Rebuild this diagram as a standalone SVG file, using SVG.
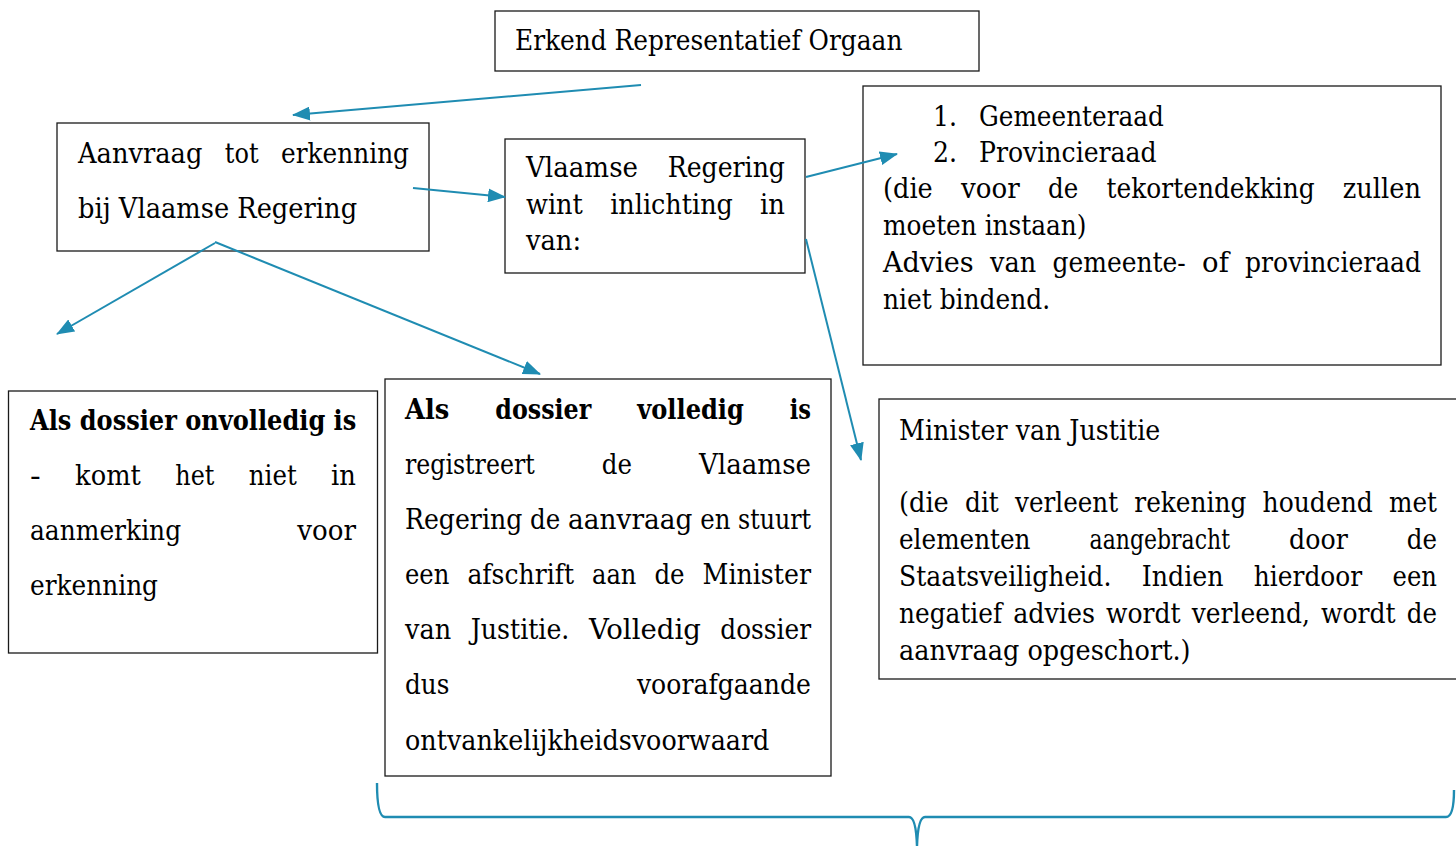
<svg xmlns="http://www.w3.org/2000/svg" width="1456" height="846" viewBox="0 0 1456 846">
  <style>
    .box { fill: #fff; stroke: #1a1a1a; stroke-width: 1.3; }
    text { font-family: 'DejaVu Serif', 'Liberation Serif', serif; font-size: 27px; fill: #000; }
    .b { font-weight: bold; }
    .link { fill: none; stroke: #1f8cb2; stroke-width: 2; }
    .brace { fill: none; stroke: #1f8cb2; stroke-width: 2.4; }
  </style>
  <defs>
    <marker id="arrow" markerUnits="userSpaceOnUse" markerWidth="18" markerHeight="14" refX="17" refY="7" orient="auto">
      <path d="M0,0 L18,7 L0,14 z" fill="#1f8cb2"/>
    </marker>
  </defs>

  <rect width="1456" height="846" fill="#fff"/>

  <!-- Every word run carries its own textLength so justified lines keep their columns -->

  <g id="orgaan">
    <rect class="box" x="495" y="11" width="484" height="60"/>
    <text x="515" y="50" textLength="387.4" lengthAdjust="spacingAndGlyphs">Erkend Representatief Orgaan</text>
  </g>

  <g id="aanvraag">
    <rect class="box" x="57" y="123" width="372" height="128"/>
    <text x="78" y="163" textLength="124.4" lengthAdjust="spacingAndGlyphs">Aanvraag</text>
    <text x="224.8" y="163" textLength="33.8" lengthAdjust="spacingAndGlyphs">tot</text>
    <text x="281" y="163" textLength="128" lengthAdjust="spacingAndGlyphs">erkenning</text>
    <text x="78" y="218" textLength="279.1" lengthAdjust="spacingAndGlyphs">bij Vlaamse Regering</text>
  </g>

  <g id="vlaamse-regering">
    <rect class="box" x="505" y="139" width="300" height="134"/>
    <text x="526" y="177" textLength="112" lengthAdjust="spacingAndGlyphs">Vlaamse</text>
    <text x="667.7" y="177" textLength="117.3" lengthAdjust="spacingAndGlyphs">Regering</text>
    <text x="526" y="214" textLength="56.9" lengthAdjust="spacingAndGlyphs">wint</text>
    <text x="610.2" y="214" textLength="122.7" lengthAdjust="spacingAndGlyphs">inlichting</text>
    <text x="760.1" y="214" textLength="24.9" lengthAdjust="spacingAndGlyphs">in</text>
    <text x="526" y="250" textLength="55.1" lengthAdjust="spacingAndGlyphs">van:</text>
  </g>

  <g id="raden">
    <rect class="box" x="863" y="86" width="578" height="279"/>
    <text x="933" y="126" textLength="24" lengthAdjust="spacingAndGlyphs">1.</text>
    <text x="979" y="126" textLength="184.8" lengthAdjust="spacingAndGlyphs">Gemeenteraad</text>
    <text x="933" y="162" textLength="24" lengthAdjust="spacingAndGlyphs">2.</text>
    <text x="979" y="162" textLength="177.7" lengthAdjust="spacingAndGlyphs">Provincieraad</text>
    <text x="883" y="198" textLength="49.8" lengthAdjust="spacingAndGlyphs">(die</text>
    <text x="961.1" y="198" textLength="58.7" lengthAdjust="spacingAndGlyphs">voor</text>
    <text x="1048.1" y="198" textLength="30.2" lengthAdjust="spacingAndGlyphs">de</text>
    <text x="1106.6" y="198" textLength="208" lengthAdjust="spacingAndGlyphs">tekortendekking</text>
    <text x="1342.8" y="198" textLength="78.2" lengthAdjust="spacingAndGlyphs">zullen</text>
    <text x="883" y="235" textLength="203.5" lengthAdjust="spacingAndGlyphs">moeten instaan)</text>
    <text x="883" y="272" textLength="90.7" lengthAdjust="spacingAndGlyphs">Advies</text>
    <text x="990" y="272" textLength="46.2" lengthAdjust="spacingAndGlyphs">van</text>
    <text x="1052.5" y="272" textLength="133.3" lengthAdjust="spacingAndGlyphs">gemeente-</text>
    <text x="1202.1" y="272" textLength="26.7" lengthAdjust="spacingAndGlyphs">of</text>
    <text x="1245.1" y="272" textLength="175.9" lengthAdjust="spacingAndGlyphs">provincieraad</text>
    <text x="883" y="309" textLength="167.1" lengthAdjust="spacingAndGlyphs">niet bindend.</text>
  </g>

  <g id="minister">
    <rect class="box" x="879" y="399" width="620" height="280"/>
    <text x="899" y="440" textLength="261.3" lengthAdjust="spacingAndGlyphs">Minister van Justitie</text>
    <text x="899" y="512" textLength="49.8" lengthAdjust="spacingAndGlyphs">(die</text>
    <text x="965" y="512" textLength="33.8" lengthAdjust="spacingAndGlyphs">dit</text>
    <text x="1015" y="512" textLength="103.1" lengthAdjust="spacingAndGlyphs">verleent</text>
    <text x="1134.3" y="512" textLength="112" lengthAdjust="spacingAndGlyphs">rekening</text>
    <text x="1262.6" y="512" textLength="110.2" lengthAdjust="spacingAndGlyphs">houdend</text>
    <text x="1389" y="512" textLength="48" lengthAdjust="spacingAndGlyphs">met</text>
    <text x="899" y="549" textLength="131.5" lengthAdjust="spacingAndGlyphs">elementen</text>
    <text x="1089.6" y="549" textLength="140.4" lengthAdjust="spacingAndGlyphs">aangebracht</text>
    <text x="1289.1" y="549" textLength="58.7" lengthAdjust="spacingAndGlyphs">door</text>
    <text x="1406.8" y="549" textLength="30.2" lengthAdjust="spacingAndGlyphs">de</text>
    <text x="899" y="586" textLength="212.4" lengthAdjust="spacingAndGlyphs">Staatsveiligheid.</text>
    <text x="1141.7" y="586" textLength="81.8" lengthAdjust="spacingAndGlyphs">Indien</text>
    <text x="1253.8" y="586" textLength="108.4" lengthAdjust="spacingAndGlyphs">hierdoor</text>
    <text x="1392.6" y="586" textLength="44.4" lengthAdjust="spacingAndGlyphs">een</text>
    <text x="899" y="623" textLength="103.1" lengthAdjust="spacingAndGlyphs">negatief</text>
    <text x="1013.2" y="623" textLength="81.8" lengthAdjust="spacingAndGlyphs">advies</text>
    <text x="1106" y="623" textLength="74.7" lengthAdjust="spacingAndGlyphs">wordt</text>
    <text x="1191.7" y="623" textLength="118.2" lengthAdjust="spacingAndGlyphs">verleend,</text>
    <text x="1321" y="623" textLength="74.7" lengthAdjust="spacingAndGlyphs">wordt</text>
    <text x="1406.8" y="623" textLength="30.2" lengthAdjust="spacingAndGlyphs">de</text>
    <text x="899" y="660" textLength="291.5" lengthAdjust="spacingAndGlyphs">aanvraag opgeschort.)</text>
  </g>

  <g id="onvolledig">
    <rect class="box" x="8.5" y="391" width="369" height="262"/>
    <text class="b" x="30" y="430" textLength="326.3" lengthAdjust="spacingAndGlyphs">Als dossier onvolledig is</text>
    <text x="30" y="485" textLength="10.7" lengthAdjust="spacingAndGlyphs">-</text>
    <text x="75.1" y="485" textLength="65.8" lengthAdjust="spacingAndGlyphs">komt</text>
    <text x="175.3" y="485" textLength="39.1" lengthAdjust="spacingAndGlyphs">het</text>
    <text x="248.8" y="485" textLength="48" lengthAdjust="spacingAndGlyphs">niet</text>
    <text x="331.1" y="485" textLength="24.9" lengthAdjust="spacingAndGlyphs">in</text>
    <text x="30" y="540" textLength="151.1" lengthAdjust="spacingAndGlyphs">aanmerking</text>
    <text x="297.3" y="540" textLength="58.7" lengthAdjust="spacingAndGlyphs">voor</text>
    <text x="30" y="595" textLength="128" lengthAdjust="spacingAndGlyphs">erkenning</text>
  </g>

  <g id="volledig">
    <rect class="box" x="385" y="379" width="446" height="397"/>
    <text class="b" x="405" y="419" textLength="44.4" lengthAdjust="spacingAndGlyphs">Als</text>
    <text class="b" x="495.3" y="419" textLength="96" lengthAdjust="spacingAndGlyphs">dossier</text>
    <text class="b" x="637.2" y="419" textLength="106.7" lengthAdjust="spacingAndGlyphs">volledig</text>
    <text class="b" x="789.7" y="419" textLength="21.3" lengthAdjust="spacingAndGlyphs">is</text>
    <text x="405" y="474" textLength="129.7" lengthAdjust="spacingAndGlyphs">registreert</text>
    <text x="601.8" y="474" textLength="30.2" lengthAdjust="spacingAndGlyphs">de</text>
    <text x="699" y="474" textLength="112" lengthAdjust="spacingAndGlyphs">Vlaamse</text>
    <text x="405" y="529" textLength="117.3" lengthAdjust="spacingAndGlyphs">Regering</text>
    <text x="530" y="529" textLength="30.2" lengthAdjust="spacingAndGlyphs">de</text>
    <text x="568" y="529" textLength="124.4" lengthAdjust="spacingAndGlyphs">aanvraag</text>
    <text x="700.2" y="529" textLength="30.2" lengthAdjust="spacingAndGlyphs">en</text>
    <text x="738.1" y="529" textLength="72.9" lengthAdjust="spacingAndGlyphs">stuurt</text>
    <text x="405" y="584" textLength="44.4" lengthAdjust="spacingAndGlyphs">een</text>
    <text x="467.4" y="584" textLength="106.6" lengthAdjust="spacingAndGlyphs">afschrift</text>
    <text x="592" y="584" textLength="44.4" lengthAdjust="spacingAndGlyphs">aan</text>
    <text x="654.4" y="584" textLength="30.2" lengthAdjust="spacingAndGlyphs">de</text>
    <text x="702.6" y="584" textLength="108.4" lengthAdjust="spacingAndGlyphs">Minister</text>
    <text x="405" y="639" textLength="46.2" lengthAdjust="spacingAndGlyphs">van</text>
    <text x="470.7" y="639" textLength="98.7" lengthAdjust="spacingAndGlyphs">Justitie.</text>
    <text x="588.9" y="639" textLength="112" lengthAdjust="spacingAndGlyphs">Volledig</text>
    <text x="720.3" y="639" textLength="90.7" lengthAdjust="spacingAndGlyphs">dossier</text>
    <text x="405" y="694" textLength="44.4" lengthAdjust="spacingAndGlyphs">dus</text>
    <text x="636.9" y="694" textLength="174.1" lengthAdjust="spacingAndGlyphs">voorafgaande</text>
    <text x="405" y="750" textLength="364.4" lengthAdjust="spacingAndGlyphs">ontvankelijkheidsvoorwaard</text>
  </g>

  <g id="connectors">
    <line class="link" x1="641" y1="85" x2="293" y2="115" marker-end="url(#arrow)"/>
    <line class="link" x1="413" y1="188" x2="505" y2="197" marker-end="url(#arrow)"/>
    <line class="link" x1="806" y1="177" x2="897" y2="154" marker-end="url(#arrow)"/>
    <line class="link" x1="806" y1="239" x2="861" y2="460" marker-end="url(#arrow)"/>
    <line class="link" x1="215" y1="243" x2="57" y2="334" marker-end="url(#arrow)"/>
    <line class="link" x1="215" y1="242" x2="540" y2="374" marker-end="url(#arrow)"/>
    <path class="brace" d="M377,783 Q377,817 385,817 L909,817 Q916,817 917,846 Q918,817 925,817 L1446,817 Q1454,817 1454,790"/>
  </g>
</svg>
